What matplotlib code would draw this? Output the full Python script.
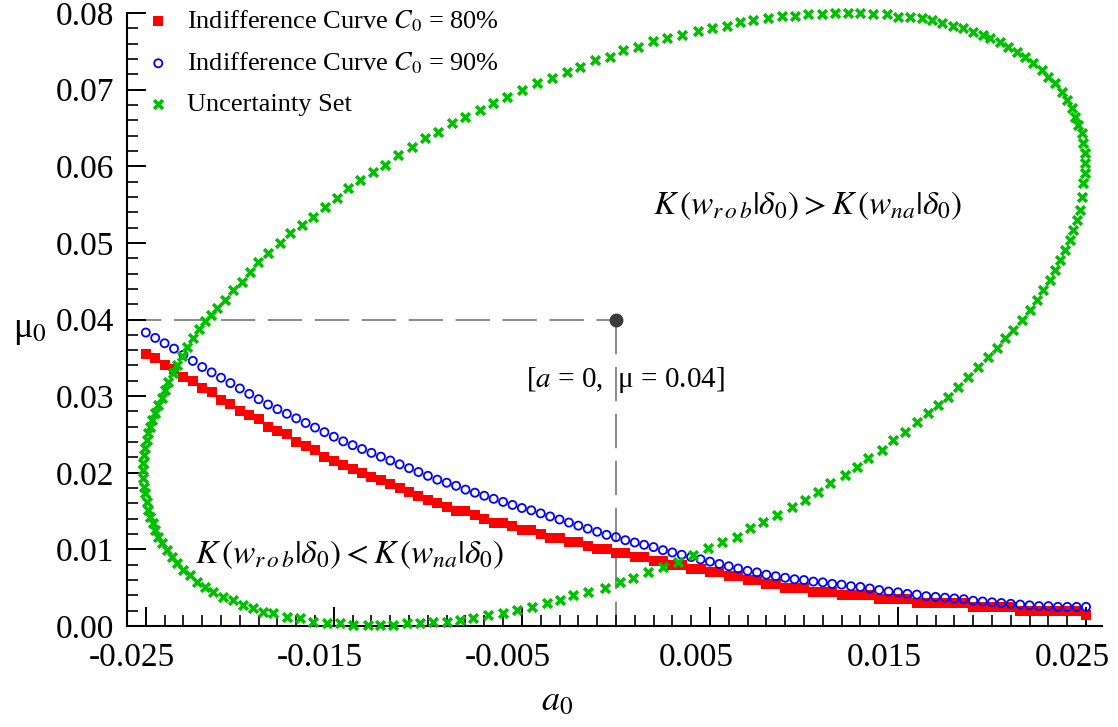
import matplotlib
matplotlib.use("Agg")
import matplotlib.pyplot as plt
import matplotlib.transforms as mtransforms
from matplotlib.ticker import MultipleLocator, FormatStrFormatter

plt.rcParams["font.family"] = "serif"
plt.rcParams["font.serif"] = ["Liberation Serif", "DejaVu Serif"]
plt.rcParams["mathtext.fontset"] = "stix"
plt.rcParams["axes.unicode_minus"] = False

# a grid of the two indifference curves
a_grid = [
    -0.025, -0.0245, -0.024, -0.0235, -0.023, -0.0225, -0.022, -0.0215, -0.021, -0.0205,
    -0.020, -0.0195, -0.019, -0.0185, -0.018, -0.0175, -0.017, -0.0165, -0.016, -0.0155,
    -0.015, -0.0145, -0.014, -0.0135, -0.013, -0.0125, -0.012, -0.0115, -0.011, -0.0105,
    -0.010, -0.0095, -0.009, -0.0085, -0.008, -0.0075, -0.007, -0.0065, -0.006, -0.0055,
    -0.005, -0.0045, -0.004, -0.0035, -0.003, -0.0025, -0.002, -0.0015, -0.001, -0.0005,
    0.0, 0.0005, 0.001, 0.0015, 0.002, 0.0025, 0.003, 0.0035, 0.004, 0.0045,
    0.005, 0.0055, 0.006, 0.0065, 0.007, 0.0075, 0.008, 0.0085, 0.009, 0.0095,
    0.010, 0.0105, 0.011, 0.0115, 0.012, 0.0125, 0.013, 0.0135, 0.014, 0.0145,
    0.015, 0.0155, 0.016, 0.0165, 0.017, 0.0175, 0.018, 0.0185, 0.019, 0.0195,
    0.020, 0.0205, 0.021, 0.0215, 0.022, 0.0225, 0.023, 0.0235, 0.024, 0.0245,
    0.025,
]

# indifference curve C0 = 80%
mu_c80 = [
    0.0355, 0.0350, 0.0340, 0.0335, 0.0325, 0.0320, 0.0310, 0.0305, 0.0295, 0.0290,
    0.0280, 0.0275, 0.0270, 0.0260, 0.0255, 0.0250, 0.0240, 0.0235, 0.0230, 0.0220,
    0.0215, 0.0210, 0.0205, 0.0200, 0.0195, 0.0190, 0.0185, 0.0180, 0.0175, 0.0170,
    0.0165, 0.0160, 0.0155, 0.0150, 0.0150, 0.0145, 0.0140, 0.0135, 0.0135, 0.0130,
    0.0125, 0.0125, 0.0120, 0.0115, 0.0115, 0.0110, 0.0110, 0.0105, 0.0100, 0.0100,
    0.0095, 0.0095, 0.0090, 0.0090, 0.0085, 0.0085, 0.0080, 0.0080, 0.0075, 0.0075,
    0.0070, 0.0070, 0.0065, 0.0065, 0.0060, 0.0060, 0.0055, 0.0055, 0.0050, 0.0050,
    0.0050, 0.0045, 0.0045, 0.0045, 0.0040, 0.0040, 0.0040, 0.0040, 0.0035, 0.0035,
    0.0035, 0.0035, 0.0030, 0.0030, 0.0030, 0.0030, 0.0030, 0.0030, 0.0025, 0.0025,
    0.0025, 0.0025, 0.0025, 0.0020, 0.0020, 0.0020, 0.0020, 0.0020, 0.0020, 0.0020,
    0.0015,
]

# indifference curve C0 = 90%
mu_c90 = [
    0.0383, 0.0376, 0.0369, 0.0362, 0.0354, 0.0346, 0.0338, 0.0331, 0.0324, 0.0317,
    0.0310, 0.0303, 0.0296, 0.0289, 0.0283, 0.0277, 0.0271, 0.0265, 0.0259, 0.0253,
    0.0247, 0.0241, 0.0236, 0.0231, 0.0226, 0.0221, 0.0216, 0.0211, 0.0206, 0.0201,
    0.0196, 0.0191, 0.0187, 0.0183, 0.0178, 0.0174, 0.0170, 0.0166, 0.0162, 0.0158,
    0.0154, 0.0151, 0.0147, 0.0143, 0.0139, 0.0135, 0.0131, 0.0127, 0.0123, 0.0119,
    0.0116, 0.0112, 0.0109, 0.0106, 0.0103, 0.0099, 0.0096, 0.0093, 0.0090, 0.0087,
    0.0084, 0.0081, 0.0078, 0.0075, 0.0072, 0.0070, 0.0067, 0.0065, 0.0063, 0.0061,
    0.0060, 0.0058, 0.0057, 0.0055, 0.0054, 0.0052, 0.0051, 0.0049, 0.0047, 0.0045,
    0.0044, 0.0042, 0.0041, 0.0039, 0.0038, 0.0037, 0.0036, 0.0035, 0.0033, 0.0032,
    0.0031, 0.0030, 0.0029, 0.0028, 0.0027, 0.0026, 0.0026, 0.0025, 0.0025, 0.0025,
    0.0025,
]

# uncertainty set (ellipse around the estimate)
set_a = [
    -0.02335, -0.02309, -0.02282, -0.02250, -0.02218, -0.02186, -0.02154, -0.02122, -0.02080, -0.02037,
    -0.01989, -0.01947, -0.01904, -0.01851, -0.01787, -0.01734, -0.01670, -0.01612, -0.01548, -0.01484,
    -0.01426, -0.01362, -0.01293, -0.01229, -0.01160, -0.01085, -0.01016, -0.00947, -0.00872, -0.00803,
    -0.00723, -0.00654, -0.00580, -0.00500, -0.00420, -0.00340, -0.00261, -0.00191, -0.00112, -0.00032,
    0.00037, 0.00117, 0.00197, 0.00271, 0.00351, 0.00436, 0.00511, 0.00590, 0.00660, 0.00729,
    0.00809, 0.00883, 0.00952, 0.01021, 0.01096, 0.01165, 0.01234, 0.01298, 0.01367, 0.01441,
    0.01500, 0.01564, 0.01628, 0.01681, 0.01734, 0.01793, 0.01846, 0.01899, 0.01952, 0.01989,
    0.02043, 0.02085, 0.02133, 0.02176, 0.02218, 0.02266, 0.02298, 0.02335, 0.02372, 0.02399,
    0.02426, 0.02442, 0.02458, 0.02479, 0.02484, 0.02495, 0.02495, 0.02495, 0.02484, 0.02479,
    0.02469, 0.02452, 0.02431, 0.02415, 0.02389, 0.02362, 0.02335, 0.02309, 0.02272, 0.02240,
    0.02202, 0.02160, 0.02112, 0.02069, 0.02027, 0.01979, 0.01926, 0.01873, 0.01819, 0.01766,
    0.01713, 0.01660, 0.01601, 0.01537, 0.01474, 0.01415, 0.01341, 0.01282, 0.01218, 0.01138,
    0.01075, 0.01005, 0.00936, 0.00856, 0.00782, 0.00713, 0.00644, 0.00564, 0.00489, 0.00410,
    0.00330, 0.00250, 0.00170, 0.00090, 0.00021, -0.00059, -0.00149, -0.00229, -0.00298, -0.00367,
    -0.00447, -0.00527, -0.00601, -0.00681, -0.00761, -0.00830, -0.00899, -0.00973, -0.01043, -0.01112,
    -0.01186, -0.01255, -0.01319, -0.01399, -0.01468, -0.01537, -0.01612, -0.01681, -0.01750, -0.01825,
    -0.01878, -0.01931, -0.01984, -0.02037, -0.02090, -0.02144, -0.02186, -0.02229, -0.02266, -0.02303,
    -0.02335, -0.02362, -0.02388, -0.02415, -0.02436, -0.02452, -0.02463, -0.02479, -0.02490, -0.02495,
    -0.02506, -0.02511, -0.02516, -0.02516, -0.02516, -0.02511, -0.02506, -0.02495, -0.02490, -0.02479,
    -0.02468, -0.02452, -0.02436, -0.02415, -0.02399, -0.02383, -0.02357,
]
set_mu = [
    0.03406, 0.03524, 0.03641, 0.03758, 0.03876, 0.03980, 0.04059, 0.04150, 0.04254, 0.04385,
    0.04489, 0.04620, 0.04750, 0.04868, 0.04998, 0.05129, 0.05233, 0.05337, 0.05468, 0.05585,
    0.05716, 0.05820, 0.05925, 0.06016, 0.06147, 0.06251, 0.06368, 0.06447, 0.06564, 0.06642,
    0.06734, 0.06825, 0.06903, 0.06995, 0.07086, 0.07151, 0.07230, 0.07295, 0.07386, 0.07425,
    0.07517, 0.07556, 0.07634, 0.07673, 0.07713, 0.07765, 0.07804, 0.07830, 0.07882, 0.07908,
    0.07934, 0.07960, 0.07960, 0.07987, 0.07987, 0.08000, 0.08000, 0.08000, 0.07987, 0.07987,
    0.07947, 0.07947, 0.07934, 0.07908, 0.07869, 0.07830, 0.07804, 0.07752, 0.07713, 0.07673,
    0.07621, 0.07556, 0.07491, 0.07425, 0.07347, 0.07256, 0.07164, 0.07086, 0.06969, 0.06864,
    0.06760, 0.06642, 0.06538, 0.06434, 0.06303, 0.06173, 0.06042, 0.05912, 0.05781, 0.05598,
    0.05429, 0.05298, 0.05168, 0.05037, 0.04907, 0.04776, 0.04646, 0.04515, 0.04385, 0.04254,
    0.04124, 0.03993, 0.03863, 0.03758, 0.03628, 0.03510, 0.03380, 0.03249, 0.03119, 0.02988,
    0.02884, 0.02780, 0.02662, 0.02532, 0.02427, 0.02297, 0.02192, 0.02075, 0.01971, 0.01866,
    0.01749, 0.01644, 0.01553, 0.01449, 0.01357, 0.01279, 0.01161, 0.01096, 0.01018, 0.00927,
    0.00835, 0.00770, 0.00705, 0.00626, 0.00574, 0.00496, 0.00444, 0.00405, 0.00339, 0.00300,
    0.00248, 0.00209, 0.00170, 0.00144, 0.00104, 0.00078, 0.00052, 0.00052, 0.00039, 0.00039,
    0.00013, 0.00013, 0.00013, 0.00013, 0.00039, 0.00039, 0.00052, 0.00104, 0.00117, 0.00170,
    0.00183, 0.00235, 0.00274, 0.00339, 0.00378, 0.00444, 0.00509, 0.00574, 0.00666, 0.00731,
    0.00822, 0.00900, 0.00992, 0.01083, 0.01161, 0.01253, 0.01344, 0.01422, 0.01514, 0.01618,
    0.01736, 0.01814, 0.01931, 0.02036, 0.02127, 0.02232, 0.02323, 0.02427, 0.02519, 0.02597,
    0.02688, 0.02780, 0.02884, 0.02975, 0.03080, 0.03184, 0.03302,
]

est_a, est_mu = 0.0, 0.04

x_ticks = [-0.025, -0.015, -0.005, 0.005, 0.015, 0.025]
x_labels = ["-0.025", "-0.015", "-0.005", "0.005", "0.015", "0.025"]

fig = plt.figure(figsize=(11.18, 7.27), dpi=100)
ax = fig.add_axes([0.1136, 0.1389, 0.8721, 0.8432])

# dashed guide lines to the estimate
ax.plot([-0.026, est_a], [est_mu, est_mu], color="#808080", lw=1.3, dashes=(19, 7), zorder=1)
ax.plot([est_a, est_a], [est_mu, 0.0], color="#808080", lw=1.3, dashes=(19, 7), zorder=1)
ax.plot([est_a], [est_mu], "o", color="#3a3a3a", ms=9, zorder=5)

ax.scatter(a_grid, mu_c80, marker="s", s=55, color="#ff0000", linewidths=0,
           label="Indifference Curve $C_0$ = 80%", zorder=2, clip_on=False)
ax.scatter(a_grid, mu_c90, marker="o", s=34, facecolors="none", edgecolors="#0000ff",
           linewidths=1.3, label="Indifference Curve $C_0$ = 90%", zorder=3, clip_on=False)
ax.scatter(set_a, set_mu, marker="x", s=40, color="#00c000", linewidths=2.6,
           label="Uncertainty Set", zorder=4, clip_on=False)

ax.set_xlim(-0.026, 0.02585)
ax.set_ylim(0, 0.08)

ax.spines["top"].set_visible(False)
ax.spines["right"].set_visible(False)
ax.spines["left"].set_linewidth(1.5)
ax.spines["bottom"].set_linewidth(1.5)

ax.set_xticks(x_ticks)
ax.set_xticklabels(x_labels)
ax.xaxis.set_minor_locator(MultipleLocator(0.001))
ax.yaxis.set_major_locator(MultipleLocator(0.01))
ax.yaxis.set_minor_locator(MultipleLocator(0.002))
ax.yaxis.set_major_formatter(FormatStrFormatter("%.2f"))
ax.tick_params(which="major", direction="in", length=14, width=1.4, labelsize=24, pad=9)
ax.tick_params(axis="x", which="major", pad=12)
ax.tick_params(which="minor", direction="in", length=8, width=1.2)

# x tick labels sit a little left of their ticks in the original
shift = mtransforms.ScaledTranslation(-0.14, 0, fig.dpi_scale_trans)
for lbl in ax.get_xticklabels():
    lbl.set_transform(lbl.get_transform() + shift)

ax.text(0.0102, 0.0549, r"$K\,(w_{r\,o\,b}|\delta_0) > K\,(w_{na}|\delta_0)$",
        fontsize=24, ha="center", va="center")
ax.text(-0.01415, 0.0093, r"$K\,(w_{r\,o\,b}|\delta_0) < K\,(w_{na}|\delta_0)$",
        fontsize=24, ha="center", va="center")
ax.text(0.0005, 0.0321, "[$a$ = 0,  μ = 0.04]", fontsize=21, ha="center", va="center")

fig.text(0.027, 0.545, "μ$_0$", fontsize=26, ha="center", va="center")
fig.text(0.498, 0.035, "$a_0$", fontsize=26, ha="center", va="center")

ax.legend(loc="upper left", bbox_to_anchor=(0.005, 1.025), frameon=False, fontsize=19,
          handletextpad=0.5, labelspacing=0.62, borderaxespad=0, handlelength=1.2,
          scatterpoints=1)

fig.savefig("out.png", dpi=100)
